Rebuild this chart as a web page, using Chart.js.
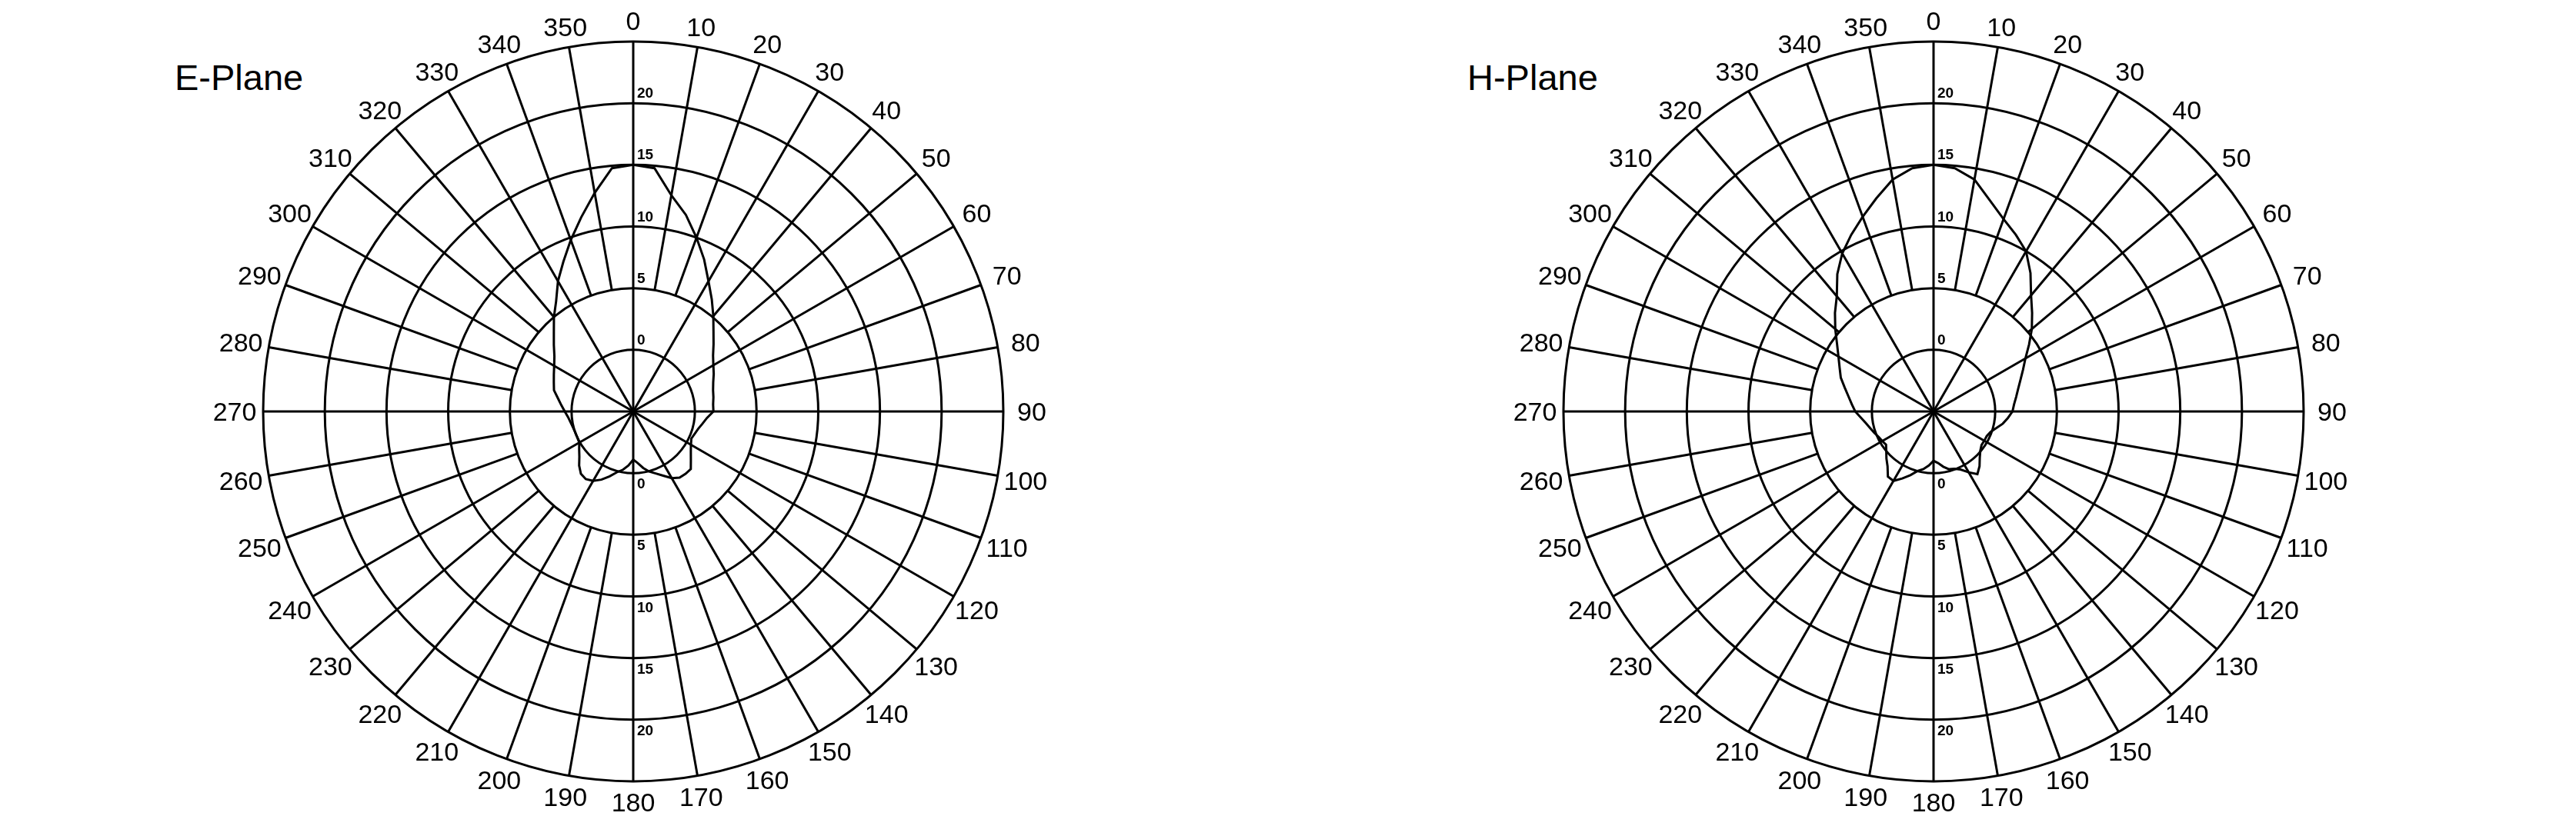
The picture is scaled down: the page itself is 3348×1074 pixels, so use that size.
<!DOCTYPE html>
<html><head><meta charset="utf-8">
<script src="https://cdn.jsdelivr.net/npm/chart.js@4.4.1/dist/chart.umd.min.js"></script>
<style>
html,body{margin:0;padding:0;background:#fff;width:3348px;height:1074px;overflow:hidden;}
body{position:relative;font-family:'Liberation Sans',Arial,sans-serif;}
canvas{position:absolute;top:0;}
.title{position:absolute;font-size:47px;line-height:47px;color:#000;white-space:nowrap;font-family:'Liberation Sans',Arial,sans-serif;}
</style></head><body>
<div class="title" style="left:227px;top:77px">E-Plane</div>
<div class="title" style="left:1907px;top:77px">H-Plane</div>
<canvas id="c1" width="1100" height="1074" style="left:273px"></canvas>
<canvas id="c2" width="1100" height="1074" style="left:1963px"></canvas>
<script>
// angle categories (degrees, 5° step); labels shown every 10°
const angleLabels = ['0','5','10','15','20','25','30','35','40','45','50','55','60','65','70','75','80','85',
  '90','95','100','105','110','115','120','125','130','135','140','145','150','155','160','165','170','175',
  '180','185','190','195','200','205','210','215','220','225','230','235','240','245','250','255','260','265',
  '270','275','280','285','290','295','300','305','310','315','320','325','330','335','340','345','350','355'];

// ring tick labels
const ringValues = [0, 5, 10, 15, 20];
const ringLabels = ['0', '5', '10', '15', '20'];

// E-plane pattern, one value per angle category
const ePlane = [15.0,14.8,12.8,11.5,10.0,8.6,7.2,6.1,5.1,4.2,3.5,2.9,2.5,2.2,1.9,1.7,1.6,1.5,
  1.5,1.0,0.7,0.45,0.3,0.2,0.4,0.7,1.1,1.6,1.6,1.55,1.25,0.75,0.35,0.05,-0.35,-0.8,
  -1.1,-0.6,-0.2,0.1,0.6,1.1,1.5,1.7,1.6,1.2,0.7,0.35,0.05,0.0,0.0,0.05,0.15,0.3,
  0.55,0.85,1.2,1.65,1.85,2.1,2.4,2.8,3.4,4.1,5.0,5.9,7.2,8.4,9.8,11.3,13.0,14.8];

// H-plane pattern
const hPlane = [15.0,14.8,14.1,12.7,11.6,10.8,10.0,8.7,7.3,6.3,5.4,4.45,3.6,3.0,2.5,2.1,1.8,1.55,
  1.4,1.05,0.7,0.25,-0.1,-0.25,-0.25,-0.25,-0.05,0.3,0.8,1.2,0.7,0.2,-0.05,-0.15,-0.45,-0.8,
  -1.0,-0.6,-0.25,0.0,0.5,1.0,1.5,1.45,0.8,0.4,0.0,-0.3,-0.2,-0.1,0.1,0.3,0.55,0.9,
  1.35,1.65,2.0,2.45,3.0,3.4,3.9,4.55,5.4,6.3,7.2,8.6,9.8,10.8,11.8,12.9,14.1,14.8];

const scaleMin = -5, scaleMax = 25, scaleStep = 5;
const spokeStartValue = 5;
const LW = 3;

const polarDecor = {
  id: 'polarDecor',
  beforeDatasetsDraw(chart) {
    const s = chart.scales.r, ctx = chart.ctx;
    ctx.save();
    ctx.strokeStyle = '#000';
    ctx.lineWidth = LW;
    chart.data.labels.forEach((lab, i) => {
      if (i % 2 !== 0 || i % 6 === 0) return;
      const a = s.getPointPositionForValue(i, spokeStartValue);
      const b = s.getPointPositionForValue(i, scaleMax);
      ctx.beginPath(); ctx.moveTo(a.x, a.y); ctx.lineTo(b.x, b.y); ctx.stroke();
    });
    ctx.restore();
  },
  afterDraw(chart) {
    const s = chart.scales.r, ctx = chart.ctx;
    ctx.save();
    ctx.fillStyle = '#000';
    ctx.font = '34px "Liberation Sans", Arial, sans-serif';
    ctx.textAlign = 'center';
    ctx.textBaseline = 'alphabetic';
    chart.data.labels.forEach((lab, i) => {
      if (i % 2 !== 0) return;
      const th = s.getIndexAngle(i);
      const d = s.drawingArea + 27 + 10 * Math.sin(th) * Math.sin(th);
      const p = s.getPointPosition(i, d);
      ctx.fillText(lab, p.x, p.y + 12.2);
    });
    ctx.font = 'bold 19px "Liberation Sans", Arial, sans-serif';
    ctx.textAlign = 'left';
    ringValues.forEach((v, k) => {
      const r = s.getDistanceFromCenterForValue(v);
      ctx.fillText(ringLabels[k], s.xCenter + 5, s.yCenter - r - 7);
      ctx.fillText(ringLabels[k], s.xCenter + 5, s.yCenter + r + 20);
    });
    ctx.restore();
  }
};

function makeChart(id, values) {
  return new Chart(document.getElementById(id), {
    type: 'radar',
    data: {
      labels: angleLabels,
      datasets: [{
        data: values,
        borderColor: '#000',
        borderWidth: LW,
        pointRadius: 0,
        pointHoverRadius: 0,
        fill: false,
        tension: 0
      }]
    },
    options: {
      responsive: false,
      animation: false,
      devicePixelRatio: 1,
      layout: { padding: { top: 54, bottom: 58, left: 50, right: 50 } },
      plugins: { legend: { display: false }, tooltip: { enabled: false } },
      scales: {
        r: {
          min: scaleMin,
          max: scaleMax,
          ticks: { display: false, stepSize: scaleStep },
          grid: { circular: true, color: '#000', lineWidth: LW },
          angleLines: {
            display: true,
            lineWidth: LW,
            color: (ctx) => (ctx.index % 6 === 0 ? '#000' : 'rgba(0,0,0,0)')
          },
          pointLabels: { display: false }
        }
      }
    },
    plugins: [polarDecor]
  });
}
makeChart('c1', ePlane);
makeChart('c2', hPlane);
</script>
</body></html>
